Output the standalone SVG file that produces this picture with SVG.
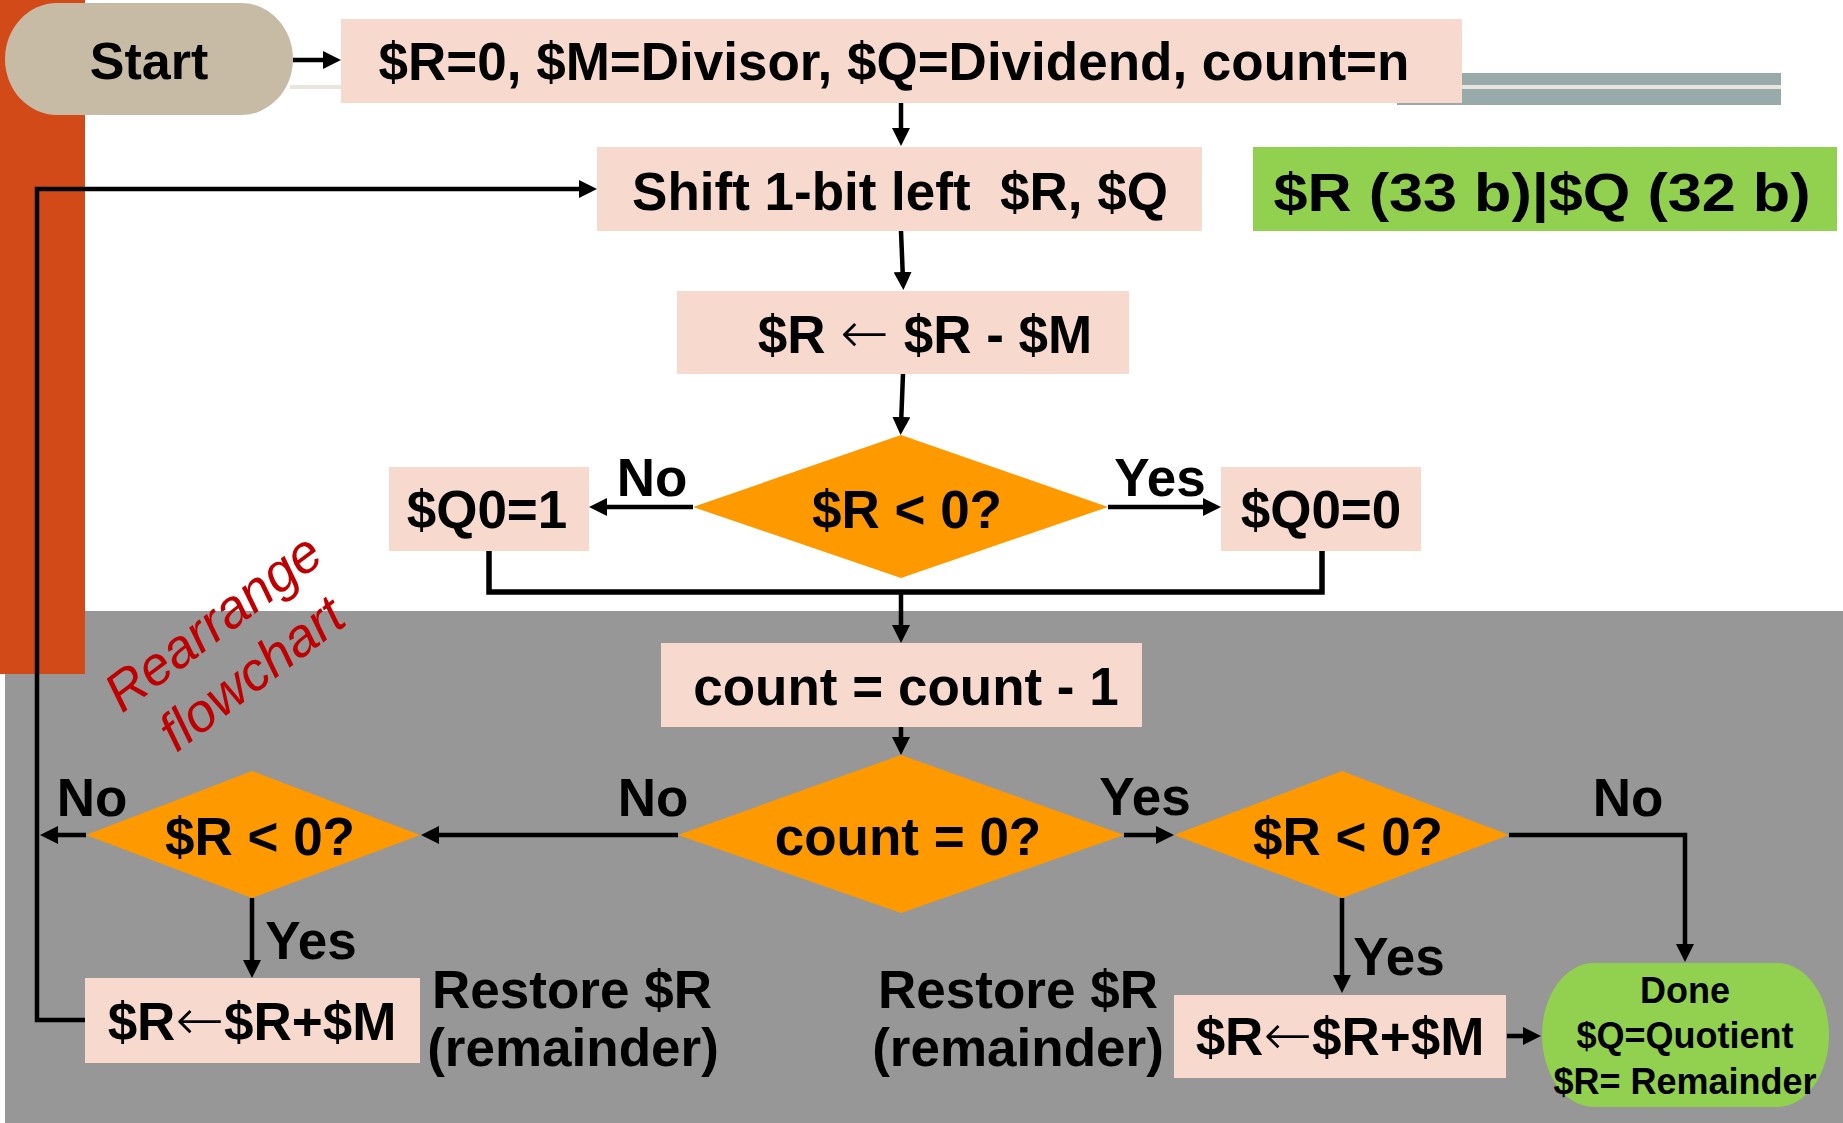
<svg xmlns="http://www.w3.org/2000/svg" width="1843" height="1123" viewBox="0 0 1843 1123">
  <style>
    .box { fill: #F8D9CD; }
    .dec { fill: #FF9900; }
    .t { font-family: "Liberation Sans", Arial, sans-serif; font-weight: bold; font-size: 53px; fill: #000; text-anchor: middle; white-space: pre; }
    .thin { font-family: "DejaVu Sans", sans-serif; font-weight: 200; font-size: 58px; }
    .done { font-size: 36px; }
    .note { font-family: "Liberation Sans", Arial, sans-serif; font-style: italic; font-size: 54px; fill: #C00000; text-anchor: middle; }
    .wire { fill: none; stroke: #000; stroke-width: 4.5; }
    .arrow { marker-end: url(#ah); }
  </style>
  <defs>
    <marker id="ah" markerUnits="userSpaceOnUse" markerWidth="20" markerHeight="18" refX="8" refY="9" orient="auto">
      <path d="M0,0 L18,9 L0,18 z" fill="#000"/>
    </marker>
  </defs>

  <!-- slide background -->
  <rect x="0" y="0" width="1843" height="1123" fill="#FFFFFF"/>
  <rect x="5" y="611" width="1838" height="512" fill="#979797"/>
  <rect x="0" y="0" width="85" height="674" fill="#D24A17"/>
  <rect x="1397" y="73" width="384" height="32" fill="#98ABAA"/>
  <rect x="290" y="85" width="1491" height="4" fill="#E9E5DC"/>

  <!-- side note -->
  <g id="note" transform="translate(224,637) rotate(-37)">
    <text class="note" x="0" y="0">Rearrange</text>
    <text class="note" x="0" y="64">flowchart</text>
  </g>

  <!-- connectors -->
  <g id="connectors">
    <line class="wire arrow" x1="293" y1="60" x2="331" y2="60"/>
    <line class="wire arrow" x1="901" y1="103" x2="901" y2="136"/>
    <path class="wire arrow" d="M86,1020 H37 V189 H587"/>
    <line class="wire arrow" x1="901" y1="231" x2="903" y2="280"/>
    <line class="wire arrow" x1="903" y1="374" x2="901" y2="425"/>
    <line class="wire arrow" x1="693" y1="507" x2="599" y2="507"/>
    <line class="wire arrow" x1="1108" y1="507" x2="1211" y2="507"/>
    <path class="wire" d="M489,551 V592 H1322 V551" style="stroke-width:5.5"/>
    <line class="wire arrow" x1="901" y1="592" x2="901" y2="633"/>
    <line class="wire arrow" x1="901" y1="727" x2="901" y2="745"/>
    <line class="wire arrow" x1="678" y1="835" x2="431" y2="835"/>
    <line class="wire arrow" x1="86" y1="835" x2="50" y2="835"/>
    <line class="wire arrow" x1="252" y1="898" x2="252" y2="968"/>
    <line class="wire arrow" x1="1124" y1="835" x2="1164" y2="835"/>
    <path class="wire arrow" d="M1509,835 H1685 V952"/>
    <line class="wire arrow" x1="1342" y1="898" x2="1342" y2="983"/>
    <line class="wire arrow" x1="1507" y1="1036" x2="1531" y2="1036"/>
  </g>

  <!-- branch labels -->
  <g id="labels">
    <text class="t" x="652" y="496">No</text>
    <text class="t" x="1160" y="496">Yes</text>
    <text class="t" x="92" y="816">No</text>
    <text class="t" x="653" y="816">No</text>
    <text class="t" x="1145" y="815">Yes</text>
    <text class="t" x="1628" y="816">No</text>
    <text class="t" x="311" y="959">Yes</text>
    <text class="t" x="1399" y="975">Yes</text>
    <text class="t" x="572" y="1008">Restore $R</text>
    <text class="t" x="573" y="1066">(remainder)</text>
    <text class="t" x="1018" y="1008">Restore $R</text>
    <text class="t" x="1018" y="1066">(remainder)</text>
  </g>

  <!-- nodes -->
  <g id="start">
    <rect x="5" y="3" width="288" height="112" rx="52" ry="56" fill="#C8BBA5"/>
    <text class="t" x="149" y="79" style="font-size:52px">Start</text>
  </g>
  <g id="init">
    <rect class="box" x="341" y="19" width="1121" height="84"/>
    <text class="t" x="894" y="80">$R=0, $M=Divisor, $Q=Dividend, count=n</text>
  </g>
  <g id="shift">
    <rect class="box" x="597" y="147" width="605" height="84"/>
    <text class="t" x="900" y="210">Shift 1-bit left  $R, $Q</text>
  </g>
  <g id="width-note">
    <rect x="1253" y="147" width="584" height="84" fill="#92D050"/>
    <text class="t" x="1542" y="211" style="font-size:54px" textLength="537" lengthAdjust="spacingAndGlyphs">$R (33 b)|$Q (32 b)</text>
  </g>
  <g id="subtract">
    <rect class="box" x="677" y="291" width="452" height="83"/>
    <text class="t" x="925" y="353">$R <tspan class="thin">←</tspan> $R - $M</text>
  </g>
  <g id="test-sign">
    <polygon class="dec" points="693,507 901,435 1108,507 901,578"/>
    <text class="t" x="907" y="528">$R &lt; 0?</text>
  </g>
  <g id="q0-one">
    <rect class="box" x="389" y="467" width="200" height="84"/>
    <text class="t" x="487" y="528">$Q0=1</text>
  </g>
  <g id="q0-zero">
    <rect class="box" x="1221" y="467" width="200" height="84"/>
    <text class="t" x="1321" y="528">$Q0=0</text>
  </g>
  <g id="decrement">
    <rect class="box" x="661" y="643" width="481" height="84"/>
    <text class="t" x="906" y="705">count = count - 1</text>
  </g>
  <g id="test-count">
    <polygon class="dec" points="678,835 901,755 1124,835 901,913"/>
    <text class="t" x="908" y="855">count = 0?</text>
  </g>
  <g id="test-sign-loop">
    <polygon class="dec" points="86,835 252,771 420,835 252,898"/>
    <text class="t" x="260" y="855">$R &lt; 0?</text>
  </g>
  <g id="test-sign-final">
    <polygon class="dec" points="1174,835 1342,771 1509,835 1342,898"/>
    <text class="t" x="1348" y="855">$R &lt; 0?</text>
  </g>
  <g id="restore-loop">
    <rect class="box" x="85" y="978" width="335" height="85"/>
    <text class="t" x="252" y="1040">$R<tspan class="thin">←</tspan>$R+$M</text>
  </g>
  <g id="restore-final">
    <rect class="box" x="1174" y="995" width="332" height="83"/>
    <text class="t" x="1340" y="1055">$R<tspan class="thin">←</tspan>$R+$M</text>
  </g>
  <g id="done">
    <rect x="1542" y="963" width="287" height="144" rx="52" ry="72" fill="#92D050"/>
    <text class="t done" x="1685" y="1003">Done</text>
    <text class="t done" x="1685" y="1048">$Q=Quotient</text>
    <text class="t done" x="1685" y="1094">$R= Remainder</text>
  </g>
</svg>
